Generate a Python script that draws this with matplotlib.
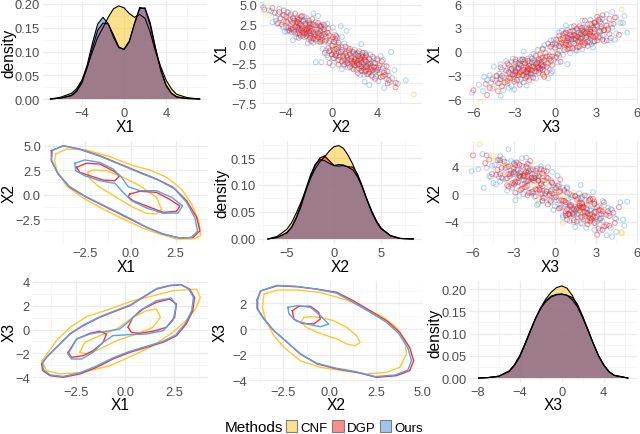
import matplotlib
matplotlib.use("Agg")
import matplotlib.pyplot as plt
from matplotlib.patches import Patch

plt.rcParams['font.family'] = ['Liberation Sans', 'DejaVu Sans']

methods = ['CNF', 'DGP', 'Ours']
base_colors = {'CNF': '#F9C51A', 'DGP': '#FF0000', 'Ours': '#3E87D2'}
point_colors = {'CNF': '#F9C51A', 'DGP': '#FF0D0D', 'Ours': '#4A9BE6'}
line_colors = {'CNF': '#FFC72C', 'DGP': '#FF3030', 'Ours': '#4EA3F5'}
key_colors = {'CNF': '#FCE28C', 'DGP': '#FA8C8C', 'Ours': '#9EC6EC'}

# ---------------- sample points (X1, X2, X3) ----------------
cnf_samples = [(-2.6, 2.8, -2.0), (1.9, -2.3, 1.8), (-1.0, 1.5, -0.6), (0.8, -0.4, 0.9),
               (-3.5, 3.9, -3.1), (2.8, -3.1, 2.5), (-0.2, 0.5, 0.2), (3.7, -5.5, 4.9),
               (-4.5, 5.5, -4.5), (1.2, -1.5, 2.9), (-2.0, 1.2, -1.5), (2.2, -4.2, 0.6),
               (-6.4, 7.2, -5.5), (5.3, -5.7, 4.9), (0.3, -1.1, -1.2), (-1.5, 3.0, -2.7),
               (1.6, 0.2, 1.4), (-3.0, 2.0, -0.8), (2.6, -2.0, 3.4),
               (-1.8, 2.1, -1.9), (2.4, -2.6, 2.0), (-2.9, 2.6, -2.5), (1.4, -0.8, 0.5),
               (-0.6, 0.1, -0.4), (3.1, -3.8, 2.7), (-3.9, 4.2, -3.6), (0.9, -1.9, 1.7),
               (-1.2, 2.4, -1.2), (2.0, -1.2, 2.3)]
dgp_samples = [(-2.1, 2.3, -1.5), (-1.5, 1.0, -2.2), (-2.8, 3.1, -2.0), (-3.4, 2.6, -3.3),
               (-1.2, 0.4, -0.3), (-2.5, 1.8, -2.9), (-0.8, 1.5, -1.0), (-1.9, 3.3, -0.6),
               (-3.0, 4.1, -2.4), (-2.2, 0.9, -1.1), (-4.0, 3.5, -4.2), (-1.6, 2.7, -2.6),
               (-2.7, 2.0, -1.2), (-0.5, -0.3, -1.4), (-3.6, 4.6, -2.8), (-1.3, 2.1, 0.4),
               (-2.4, 3.8, -3.6), (-1.8, 0.2, -1.9), (-3.2, 1.9, -2.1), (-2.0, 1.4, -3.0),
               (-4.6, 5.0, -4.8), (-1.0, 0.8, -2.4), (-2.9, 3.0, -0.9), (-2.3, 2.6, -2.3),
               (-1.7, 1.7, -0.2), (-3.8, 3.2, -3.0), (-0.9, 2.4, -1.7), (-2.6, 0.6, -2.5),
               (-1.4, 3.0, -1.3), (-3.3, 3.6, -1.6), (-2.2, 4.4, -2.0), (-1.1, -0.6, -0.8),
               (-5.5, 5.6, -5.0), (-2.0, 2.9, -4.0), (-0.3, 1.2, 0.2), (-2.6, 1.1, -3.4),
               (-1.6, 3.6, -1.0), (-3.1, 2.4, -3.9), (-4.2, 4.3, -2.6), (-1.9, 2.0, -1.6),
               (-2.4, -0.2, -2.0), (-0.6, 0.4, -0.6), (-3.5, 2.9, -4.6), (-1.3, 1.6, -2.9),
               (-2.8, 4.8, -1.8), (1.7, -1.8, 1.5), (2.3, -2.6, 2.2), (1.1, -0.9, 0.5),
               (0.6, -1.4, 1.8), (2.8, -3.0, 2.6), (1.4, -2.2, 0.9), (3.3, -3.4, 3.0),
               (1.9, -0.7, 2.8), (0.9, 0.1, -0.2), (2.5, -1.6, 1.1), (1.2, -2.8, 2.4),
               (3.7, -4.2, 2.9), (2.0, -2.1, 0.3), (0.4, -0.2, 1.3), (1.6, -3.3, 1.9),
               (2.7, -1.2, 3.6), (1.8, -2.4, 3.2), (0.2, 0.6, 0.7), (2.1, -3.8, 1.4),
               (3.0, -2.0, 2.0), (1.3, -1.1, 2.9), (4.1, -4.6, 4.0), (1.5, -0.4, 0.1),
               (2.4, -3.1, 0.8), (0.8, -1.9, 2.1), (2.9, -4.0, 1.6), (1.0, -1.5, -0.5),
               (2.2, -0.9, 2.5), (3.5, -2.7, 4.3), (1.7, -2.9, 1.0), (0.5, -0.8, 1.6),
               (2.6, -2.3, 3.3), (1.9, -1.3, 2.0), (4.6, -5.2, 3.5), (1.1, -2.5, 0.8),
               (2.0, -3.6, 2.7), (3.2, -1.7, 1.8), (0.7, 0.3, 0.3), (2.5, -4.4, 2.4),
               (1.4, -3.0, 3.8), (3.9, -3.2, 2.2), (0.3, -1.0, -0.9), (2.1, -1.9, 4.7),
               (-4.9, 5.6, -6.0), (4.4, -5.9, 3.1),
               (-1.9, 1.1, -0.9), (-2.4, 2.2, -1.7), (-3.0, 3.5, -2.7), (-1.4, 0.3, -1.7),
               (-2.2, 3.0, -3.2), (-0.7, 0.9, 0.1), (-3.3, 4.0, -3.4), (-2.6, 2.4, -0.6),
               (-1.0, 1.9, -1.2), (-1.8, 2.5, -2.5), (-3.9, 4.7, -3.7), (-2.1, 1.7, -2.7),
               (-1.5, 2.3, -0.5), (-2.9, 1.6, -3.1), (-0.4, 0.6, -1.1), (-2.5, 3.4, -1.4),
               (-1.2, 1.2, -2.0), (-3.4, 3.0, -2.2), (-2.0, 0.6, -1.3), (-4.4, 3.8, -3.9),
               (-1.7, 2.9, -3.4), (-2.8, 2.6, -2.6), (-0.9, -0.2, -0.4), (-3.6, 3.3, -1.9),
               (-2.3, 1.9, -0.9), (-1.1, 2.7, -2.2), (-2.7, 4.2, -2.9), (-3.1, 2.8, -4.3),
               (-1.6, 0.7, -1.4), (-2.4, 1.4, -2.4), (-5.0, 4.9, -4.2), (-0.6, 1.6, -0.2),
               (-1.9, 4.0, -2.1), (-3.7, 2.3, -3.5), (-2.2, 2.0, -1.9), (-1.3, 0.0, -1.0),
               (-2.9, 3.7, -3.0), (-4.1, 4.5, -5.1), (-0.2, 0.1, -0.7), (-2.6, 3.2, -2.1),
               (-1.5, 1.3, -3.5), (-3.2, 3.4, -0.8), (-2.0, 2.6, -1.2), (-1.0, 0.2, -2.9),
               (-3.5, 4.9, -4.0),
               (1.5, -1.6, 1.2), (2.2, -2.0, 1.9), (0.9, -1.2, 0.8), (2.7, -3.4, 2.0),
               (1.3, -0.6, 1.7), (3.1, -2.9, 3.4), (1.8, -2.7, 2.3), (0.5, -0.5, 0.0),
               (2.4, -1.4, 2.9), (1.0, -2.2, 1.4), (3.5, -4.0, 2.6), (1.7, -1.0, 0.6),
               (2.9, -2.5, 3.9), (0.7, -1.6, 2.4), (2.1, -3.0, 1.1), (1.4, -1.9, 3.1),
               (3.8, -3.6, 3.3), (2.5, -1.9, 2.1), (0.3, 0.2, 0.9), (1.9, -3.5, 2.6),
               (2.6, -2.8, 1.3), (1.2, -1.4, 2.0), (3.3, -4.5, 3.8), (1.6, -2.0, 0.4),
               (2.0, -0.3, 1.5), (0.8, -2.9, 1.0), (3.0, -3.3, 2.8), (1.5, -2.5, 3.5),
               (2.3, -1.0, 0.7), (4.0, -5.0, 3.2), (1.1, -0.2, 2.2), (2.8, -3.9, 2.4),
               (1.9, -2.2, 1.6), (0.6, -1.0, -0.3), (3.6, -2.6, 2.9), (2.2, -3.2, 4.0),
               (1.3, -2.4, 1.8), (2.5, -0.7, 2.6), (4.3, -4.2, 4.4), (1.7, -3.7, 0.9),
               (0.4, -1.8, 1.1), (3.2, -3.0, 1.4), (2.0, -2.6, 3.0), (1.0, 0.4, 0.4),
               (2.7, -4.7, 3.6)]
ours_samples = [(-2.0, 2.1, -2.3), (-1.4, 0.7, -1.2), (-2.9, 3.4, -1.7), (-3.3, 2.2, -3.8),
                (-1.0, 1.3, -0.1), (-2.4, 2.8, -3.1), (-0.7, 0.2, -1.8), (-1.8, 3.7, -1.3),
                (-3.1, 4.5, -3.0), (-2.3, 1.2, -0.4), (-4.1, 3.9, -3.5), (-1.5, 2.4, -2.7),
                (-2.6, 1.5, -2.2), (-0.4, 0.9, 0.6), (-3.7, 4.2, -4.4), (-1.2, 1.9, -1.5),
                (-2.5, 3.2, -0.2), (-1.7, -0.3, -2.6), (-3.4, 2.7, -1.4), (-2.1, 0.5, -3.5),
                (-4.4, 4.8, -3.2), (-0.9, 1.8, -2.0), (-2.8, 2.5, -4.1), (-2.2, 3.5, -2.8),
                (-1.6, 1.0, 0.9), (-3.9, 2.8, -2.3), (-1.1, 2.9, -1.1), (-2.7, 0.1, -1.6),
                (-1.3, 3.4, -3.2), (-3.5, 3.3, -2.5), (-2.1, 4.0, -1.0), (-0.6, -0.8, -0.4),
                (-5.0, 5.8, -5.3), (-1.9, 1.6, -4.5), (-0.2, 0.0, 1.1), (-2.5, 1.9, -2.0),
                (-1.5, 4.3, -1.9), (-3.0, 1.4, -4.3), (-4.3, 5.3, -2.1), (-1.8, 2.6, -0.8),
                (-2.3, -0.9, -2.9), (-0.8, -0.1, 0.0), (-3.6, 3.8, -5.0), (-1.2, 2.2, -3.6),
                (-5.6, 4.6, -4.0), (1.8, -2.0, 2.3), (2.4, -2.9, 1.7), (1.0, -0.5, 1.2),
                (0.7, -1.7, 0.4), (2.9, -3.5, 3.4), (1.5, -2.6, 1.5), (3.4, -3.0, 2.4),
                (2.0, -1.0, 3.5), (0.8, 0.5, -0.8), (2.6, -1.9, 0.5), (1.3, -3.2, 2.9),
                (3.8, -4.7, 3.7), (1.9, -1.5, 0.8), (0.3, -0.6, 2.0), (1.6, -3.9, 1.1),
                (2.8, -1.4, 2.9), (1.7, -2.2, 4.1), (0.1, 1.1, 0.3), (2.2, -4.3, 2.0),
                (3.1, -2.5, 1.2), (1.2, -0.8, 2.6), (4.3, -5.5, 4.5), (1.4, -1.2, -0.3),
                (2.5, -2.7, 1.4), (0.9, -2.4, 2.7), (3.0, -4.9, 2.3), (1.1, -1.8, 0.0),
                (2.3, -0.6, 1.9), (3.6, -3.7, 5.0), (1.8, -3.4, 1.7), (0.4, -1.3, 1.0),
                (2.7, -2.0, 3.9), (2.0, -2.8, 2.4), (5.0, -6.2, 4.2), (1.2, -2.0, 1.3),
                (2.1, -4.0, 3.1), (3.3, -2.2, 2.7), (0.6, 0.0, -0.4), (2.6, -4.8, 1.5),
                (1.5, -3.5, 4.4), (4.0, -3.8, 2.6), (0.2, -1.6, -1.3), (2.4, -1.1, 5.3),
                (-5.2, 3.3, -6.1), (4.7, -6.0, 3.8), (-1.0, 5.2, -2.4), (2.3, 0.8, 0.9),
                (-3.2, 0.9, -5.2), (3.6, -1.2, 4.8), (-4.6, 6.5, -3.4),
                (-1.7, 1.4, -1.0), (-2.6, 2.3, -2.6), (-3.2, 3.8, -2.0), (-1.3, 0.0, -2.3),
                (-2.3, 3.3, -3.9), (-0.5, 1.4, 0.3), (-3.5, 4.4, -3.0), (-2.7, 2.0, -0.3),
                (-1.1, 2.3, -1.6), (-2.0, 2.8, -2.0), (-4.0, 5.0, -4.1), (-2.2, 1.3, -3.2),
                (-1.4, 2.7, 0.2), (-3.0, 1.8, -2.8), (-0.3, 0.4, -1.6), (-2.4, 3.7, -1.1),
                (-1.0, 0.6, -2.6), (-3.3, 3.5, -1.8), (-1.8, 0.1, -0.9), (-4.7, 4.1, -4.6),
                (-1.6, 3.1, -3.0), (-2.9, 2.9, -3.3), (-0.8, -0.5, -0.9), (-3.8, 3.1, -2.6),
                (-2.5, 2.4, -1.5), (-1.2, 3.0, -2.5), (-2.8, 4.6, -3.5), (-3.0, 2.6, -4.8),
                (-1.5, 0.4, -0.6), (-2.6, 1.0, -2.1), (-4.9, 5.1, -3.8), (-0.7, 2.0, -0.7),
                (-2.0, 4.5, -2.7), (-3.9, 2.5, -4.7), (-2.1, 2.2, -1.3), (-1.4, -0.4, -1.5),
                (-3.0, 3.9, -2.3), (-4.2, 3.6, -5.6), (-0.1, 0.6, -0.2), (-2.7, 3.0, -1.8),
                (-1.6, 1.8, -4.0), (-3.4, 3.9, -0.5), (-1.9, 2.4, -1.7), (-0.9, 0.9, -3.1),
                (-3.3, 5.5, -4.0), (-2.3, -1.4, -1.2), (-4.8, 2.9, -3.0), (0.0, 2.6, -2.3),
                (1.6, -1.3, 1.9), (2.1, -2.4, 2.6), (0.8, -0.9, 0.1), (2.8, -3.0, 1.6),
                (1.4, -0.3, 2.4), (3.2, -3.3, 3.1), (1.9, -2.9, 1.3), (0.5, 0.4, 0.7),
                (2.5, -1.7, 3.2), (1.0, -2.7, 2.2), (3.7, -4.3, 3.0), (1.6, -0.7, 1.0),
                (3.0, -2.3, 4.2), (0.6, -2.0, 1.7), (2.0, -3.4, 0.6), (1.3, -1.6, 3.6),
                (4.1, -3.9, 3.5), (2.4, -2.1, 2.3), (0.2, -0.3, 1.5), (1.8, -3.8, 3.3),
                (2.7, -3.1, 0.9), (1.1, -1.1, 2.5), (3.4, -4.9, 4.1), (1.5, -2.3, -0.1),
                (2.1, 0.1, 1.8), (0.9, -3.1, 0.6), (3.1, -3.6, 2.2), (1.4, -2.8, 4.0),
                (2.4, -0.9, 0.3), (4.2, -5.3, 3.3), (1.2, 0.3, 2.8), (2.9, -4.2, 1.9),
                (1.9, -1.8, 1.2), (0.4, -0.9, -0.9), (3.5, -2.4, 3.4), (2.3, -3.6, 4.5),
                (1.2, -2.2, 1.0), (2.6, -0.4, 2.0), (4.5, -4.6, 5.1), (1.6, -4.1, 1.4),
                (0.1, -2.1, 1.6), (3.3, -2.8, 0.8), (2.1, -2.9, 3.6), (0.9, 0.9, 0.0),
                (2.8, -5.2, 2.9), (3.9, -1.6, 2.0), (0.5, -3.4, 2.8), (1.7, 1.3, 1.9)]
samples = {'CNF': cnf_samples, 'DGP': dgp_samples, 'Ours': ours_samples}

# ---------------- density curves ----------------
x1_grid = [-7, -6, -5, -4.5, -4, -3.5, -3, -2.5, -2, -1.5, -1, -0.5, 0, 0.5, 1, 1.5, 2, 2.5, 3, 3.5, 4, 4.5, 5, 6, 7.2]
x1_dens_cnf = [0, 0.004, 0.012, 0.022, 0.040, 0.068, 0.100, 0.130, 0.150, 0.172, 0.190, 0.196, 0.192, 0.180, 0.172, 0.178, 0.170, 0.140, 0.100, 0.068, 0.040, 0.022, 0.010, 0.003, 0]
x1_dens_dgp = [0, 0.002, 0.007, 0.016, 0.034, 0.066, 0.108, 0.145, 0.160, 0.158, 0.135, 0.110, 0.104, 0.120, 0.160, 0.193, 0.190, 0.155, 0.105, 0.060, 0.028, 0.012, 0.004, 0.001, 0]
x1_dens_ours = [0, 0.002, 0.008, 0.018, 0.038, 0.072, 0.118, 0.158, 0.172, 0.158, 0.130, 0.108, 0.105, 0.122, 0.158, 0.190, 0.192, 0.160, 0.108, 0.062, 0.030, 0.013, 0.005, 0.001, 0]

x2_grid = [-7, -6, -5, -4.5, -4, -3.5, -3, -2.5, -2, -1.5, -1, -0.5, 0, 0.5, 1, 1.5, 2, 2.5, 3, 3.5, 4, 4.5, 5, 6, 7, 8.4]
x2_dens_cnf = [0, 0.005, 0.018, 0.030, 0.048, 0.068, 0.090, 0.112, 0.130, 0.143, 0.152, 0.163, 0.171, 0.173, 0.168, 0.155, 0.138, 0.118, 0.096, 0.073, 0.052, 0.034, 0.020, 0.006, 0.001, 0]
x2_dens_dgp = [0, 0.003, 0.011, 0.021, 0.038, 0.060, 0.088, 0.114, 0.136, 0.150, 0.154, 0.145, 0.136, 0.135, 0.136, 0.134, 0.133, 0.120, 0.098, 0.073, 0.050, 0.032, 0.019, 0.006, 0.001, 0]
x2_dens_ours = [0, 0.003, 0.012, 0.022, 0.040, 0.064, 0.092, 0.118, 0.138, 0.147, 0.145, 0.140, 0.136, 0.138, 0.137, 0.133, 0.128, 0.115, 0.096, 0.072, 0.050, 0.032, 0.019, 0.006, 0.001, 0]

x3_grid = [-7.9, -7, -6, -5, -4.5, -4, -3.5, -3, -2.5, -2, -1.5, -1, -0.5, 0, 0.5, 1, 1.5, 2, 2.5, 3, 3.5, 4, 4.5, 5, 6.3]
x3_dens_cnf = [0, 0.001, 0.004, 0.015, 0.028, 0.047, 0.074, 0.104, 0.133, 0.158, 0.178, 0.193, 0.203, 0.207, 0.202, 0.186, 0.162, 0.136, 0.107, 0.078, 0.051, 0.030, 0.015, 0.006, 0]
x3_dens_dgp = [0, 0.001, 0.004, 0.015, 0.029, 0.049, 0.076, 0.105, 0.133, 0.156, 0.172, 0.182, 0.187, 0.188, 0.186, 0.181, 0.166, 0.139, 0.109, 0.078, 0.050, 0.029, 0.014, 0.006, 0]
x3_dens_ours = [0, 0.001, 0.004, 0.016, 0.030, 0.050, 0.077, 0.106, 0.134, 0.157, 0.174, 0.184, 0.188, 0.189, 0.186, 0.176, 0.160, 0.136, 0.108, 0.078, 0.050, 0.029, 0.014, 0.006, 0]

# ---------------- density contours (x, y) ----------------
# X1 (x) vs X2 (y)
c12_cnf_outer = [(-4.15, 4.15), (-3.56, 4.66), (-2.44, 4.56), (-1.15, 3.88), (0.14, 2.96), (1.07, 2.52), (2.0, 1.77), (2.83, 0.57), (3.39, -0.96), (3.81, -2.83), (3.89, -4.20), (3.48, -4.54), (2.56, -4.54), (1.63, -4.03), (0.70, -3.45), (-0.41, -2.49), (-1.52, -1.47), (-2.63, -0.35), (-3.56, 0.91), (-4.08, 2.44), (-4.21, 3.47)]
c12_cnf_inner = [(-2.36, 2.28), (-2.08, 2.52), (-1.33, 2.44), (-0.41, 1.77), (0.52, 0.91), (1.44, -0.28), (1.72, -1.47), (1.44, -1.98), (0.89, -1.91), (0.14, -1.30), (-0.78, -0.28), (-1.71, 0.75), (-2.26, 1.60)]
c12_dgp_outer = [(-4.39, 4.49), (-3.74, 5.0), (-2.82, 4.66), (-1.71, 3.98), (-0.59, 3.13), (0.52, 2.28), (1.44, 1.6), (2.37, 0.75), (3.11, -0.62), (3.67, -2.32), (3.85, -3.69), (3.48, -4.37), (2.74, -4.44), (1.81, -4.03), (0.89, -3.35), (-0.22, -2.32), (-1.33, -1.30), (-2.44, -0.28), (-3.37, 0.75), (-4.02, 2.11), (-4.39, 3.47)]
c12_dgp_inner_a = [(-3.0, 2.79), (-2.44, 3.20), (-1.71, 3.13), (-0.97, 2.44), (-0.59, 1.93), (-0.87, 1.42), (-1.52, 1.49), (-2.26, 1.93), (-2.82, 2.28)]
c12_dgp_inner_b = [(-0.04, 0.06), (0.52, 0.34), (1.44, 0.23), (2.18, -0.49), (2.74, -1.17), (2.56, -1.71), (1.81, -1.81), (0.89, -1.17), (0.14, -0.62), (-0.13, -0.21)]
c12_ours_outer = [(-4.33, 4.55), (-3.70, 4.98), (-2.78, 4.60), (-1.66, 3.90), (-0.55, 3.05), (0.55, 2.20), (1.50, 1.52), (2.42, 0.62), (3.10, -0.75), (3.58, -2.40), (3.72, -3.75), (3.36, -4.40), (2.66, -4.42), (1.76, -4.00), (0.84, -3.28), (-0.25, -2.22), (-1.36, -1.22), (-2.48, -0.20), (-3.40, 0.85), (-4.05, 2.20), (-4.38, 3.55)]
c12_ours_inner = [(-3.09, 3.20), (-2.54, 3.54), (-1.71, 3.30), (-0.97, 2.62), (-0.50, 1.77), (-0.13, 0.81), (0.52, 0.40), (1.44, 0.40), (2.28, -0.28), (2.89, -1.14), (2.64, -1.88), (1.81, -1.91), (0.89, -1.37), (0.06, -0.62), (-0.41, 0.23), (-0.87, 1.16), (-1.71, 1.42), (-2.54, 1.93), (-3.04, 2.44)]

# X1 (x) vs X3 (y)
c13_cnf_outer = [(-4.22, -2.67), (-3.47, -0.94), (-2.79, 0.18), (-1.95, 1.08), (-0.77, 1.72), (0.40, 2.42), (1.25, 2.76), (2.42, 3.26), (3.61, 3.40), (3.81, 2.70), (3.61, 1.86), (3.18, 0.88), (2.42, -0.24), (1.41, -1.36), (0.40, -2.20), (-0.77, -3.04), (-2.12, -3.60), (-3.30, -3.74), (-3.97, -3.46)]
c13_cnf_inner = [(-2.29, -1.92), (-2.04, -1.08), (-1.28, -0.52), (-0.43, 0.04), (0.40, 1.03), (1.08, 1.58), (1.59, 1.72), (1.79, 1.03), (1.41, 0.18), (0.58, -0.38), (-0.43, -0.94), (-1.28, -1.64), (-1.95, -2.06)]
c13_dgp_outer = [(-4.22, -2.90), (-3.97, -2.34), (-3.38, -1.36), (-2.79, -0.38), (-2.12, 0.32), (-1.28, 1.03), (-0.43, 1.58), (0.24, 2.0), (0.91, 2.7), (1.59, 3.40), (2.26, 3.68), (2.85, 3.77), (3.27, 3.40), (3.52, 2.70), (3.43, 1.58), (3.10, 0.46), (2.60, -0.52), (1.92, -1.08), (1.08, -1.50), (0.24, -1.92), (-0.61, -2.48), (-1.44, -3.18), (-2.29, -3.74), (-3.13, -4.02), (-3.80, -3.88), (-4.17, -3.46)]
c13_dgp_inner_a = [(-2.88, -1.92), (-2.45, -0.80), (-1.78, -0.32), (-1.28, -0.15), (-0.94, -0.38), (-1.11, -1.08), (-1.62, -1.78), (-2.12, -2.20), (-2.71, -2.34)]
c13_dgp_inner_b = [(0.15, 0.18), (0.40, 1.03), (0.91, 1.72), (1.59, 2.29), (2.26, 2.56), (2.60, 2.14), (2.51, 1.03), (2.09, 0.18), (1.41, -0.15), (0.74, -0.32), (0.32, -0.24)]
c13_ours_outer = [(-4.18, -2.80), (-3.93, -2.24), (-3.34, -1.28), (-2.75, -0.30), (-2.08, 0.40), (-1.24, 1.10), (-0.40, 1.65), (0.28, 2.08), (0.95, 2.78), (1.62, 3.46), (2.28, 3.72), (2.80, 3.78), (3.22, 3.42), (3.46, 2.72), (3.38, 1.60), (3.04, 0.48), (2.55, -0.48), (1.88, -1.02), (1.04, -1.44), (0.20, -1.86), (-0.66, -2.42), (-1.48, -3.10), (-2.32, -3.66), (-3.15, -3.95), (-3.78, -3.82), (-4.13, -3.38)]
c13_ours_inner = [(-2.88, -2.06), (-2.45, -0.80), (-1.78, -0.38), (-0.94, -0.15), (-0.27, 0.04), (0.24, 0.74), (0.74, 1.58), (1.59, 2.42), (2.34, 2.65), (2.60, 2.00), (2.42, 0.74), (1.92, -0.10), (1.08, -0.38), (0.07, -0.44), (-0.61, -0.52), (-1.11, -1.08), (-1.62, -1.92), (-2.20, -2.48), (-2.71, -2.48)]

# X2 (x) vs X3 (y)
c23_cnf_outer = [(-3.54, 2.72), (-2.82, 3.04), (-1.75, 3.04), (-0.51, 2.85), (0.74, 2.33), (1.81, 1.69), (2.88, 0.91), (3.59, 0.13), (4.04, -0.91), (4.13, -1.95), (3.77, -2.98), (3.06, -3.37), (1.99, -3.50), (0.74, -3.24), (-0.51, -2.98), (-1.58, -2.47), (-2.47, -1.43), (-3.01, -0.52), (-3.45, 0.65), (-3.63, 1.69)]
c23_cnf_inner = [(-1.40, 0.91), (-1.04, 0.96), (-0.51, 0.91), (0.20, 0.65), (0.92, 0.13), (1.45, -0.52), (1.63, -1.04), (1.36, -1.30), (0.92, -1.17), (0.39, -0.78), (-0.15, -0.52), (-0.68, -0.26), (-1.31, 0.18), (-1.54, 0.57)]
c23_dgp_outer = [(-3.89, 2.33), (-3.72, 2.98), (-2.82, 3.37), (-1.75, 3.29), (-0.68, 3.11), (0.39, 2.85), (1.27, 2.20), (2.17, 1.42), (3.06, 0.65), (3.77, -0.26), (4.30, -1.43), (4.52, -2.47), (4.30, -3.24), (3.59, -3.63), (2.52, -3.76), (1.45, -3.37), (0.39, -3.11), (-0.68, -2.72), (-1.58, -1.95), (-2.29, -1.04), (-3.01, -0.13), (-3.54, 0.78), (-3.89, 1.56)]
c23_dgp_inner = [(-2.02, 1.43), (-1.67, 1.77), (-1.04, 1.77), (-0.60, 1.30), (-0.51, 0.78), (-0.87, 0.39), (-1.49, 0.44), (-1.94, 0.78)]
c23_ours_outer = [(-3.93, 2.25), (-3.75, 2.95), (-2.86, 3.40), (-1.80, 3.33), (-0.72, 3.10), (0.35, 2.80), (1.22, 2.12), (2.12, 1.35), (3.00, 0.58), (3.70, -0.32), (4.20, -1.45), (4.40, -2.45), (4.20, -3.20), (3.50, -3.58), (2.45, -3.70), (1.40, -3.32), (0.35, -3.05), (-0.72, -2.66), (-1.62, -1.90), (-2.33, -0.98), (-3.05, -0.08), (-3.58, 0.82), (-3.93, 1.60)]
c23_ours_inner = [(-2.26, 1.69), (-1.75, 1.82), (-1.04, 1.69), (-0.51, 1.04), (-0.06, 0.39), (-0.51, 0.18), (-1.22, 0.39), (-1.84, 0.65), (-2.20, 1.17)]

contours_12 = {'CNF': [c12_cnf_outer, c12_cnf_inner], 'DGP': [c12_dgp_outer, c12_dgp_inner_a, c12_dgp_inner_b], 'Ours': [c12_ours_outer, c12_ours_inner]}
contours_13 = {'CNF': [c13_cnf_outer, c13_cnf_inner], 'DGP': [c13_dgp_outer, c13_dgp_inner_a, c13_dgp_inner_b], 'Ours': [c13_ours_outer, c13_ours_inner]}
contours_23 = {'CNF': [c23_cnf_outer, c23_cnf_inner], 'DGP': [c23_dgp_outer, c23_dgp_inner], 'Ours': [c23_ours_outer, c23_ours_inner]}

# ---------------- tick labels ----------------
ticks_dens_big = [0, 0.05, 0.10, 0.15, 0.20]
labels_dens_big = ['0.00', '0.05', '0.10', '0.15', '0.20']
ticks_dens_x2 = [0, 0.05, 0.10, 0.15]
labels_dens_x2 = ['0.00', '0.05', '0.10', '0.15']
ticks_m4_4 = [-4, 0, 4]
labels_m4_4 = ['\u22124', '0', '4']
ticks_x1_sc = [-7.5, -5, -2.5, 0, 2.5, 5]
labels_x1_sc = ['\u22127.5', '\u22125.0', '\u22122.5', '0.0', '2.5', '5.0']
ticks_m6_6 = [-6, -3, 0, 3, 6]
labels_m6_6 = ['\u22126', '\u22123', '0', '3', '6']
ticks_25 = [-2.5, 0, 2.5]
labels_25 = ['\u22122.5', '0.0', '2.5']
ticks_x2_c = [-2.5, 0, 2.5, 5]
labels_x2_c = ['\u22122.5', '0.0', '2.5', '5.0']
ticks_m5_5 = [-5, 0, 5]
labels_m5_5 = ['\u22125', '0', '5']
ticks_x3_c = [-4, -2, 0, 2, 4]
labels_x3_c = ['\u22124', '\u22122', '0', '2', '4']
ticks_x3_c2 = [-4, -2, 0, 2]
labels_x3_c2 = ['\u22124', '\u22122', '0', '2']
ticks_m8 = [-8, -4, 0, 4]
labels_m8 = ['\u22128', '\u22124', '0', '4']

W, H = 640, 435
fig = plt.figure(figsize=(W / 100, H / 100), dpi=100)


def make_ax(l, t, r, b, xlim, ylim, xt, xl, yt, yl, xlabel, ylabel, ylab_x):
    ax = fig.add_axes([l / W, 1 - b / H, (r - l) / W, (b - t) / H])
    ax.set_xlim(*xlim)
    ax.set_ylim(*ylim)
    for s in ax.spines.values():
        s.set_visible(False)
    ax.set_xticks(xt, xl)
    ax.set_yticks(yt, yl)

    def minors(tk, lim):
        step = tk[1] - tk[0]
        cand = [tk[0] - step / 2] + [a + step / 2 for a in tk]
        return [c for c in cand if lim[0] <= c <= lim[1]]
    ax.set_xticks(minors(xt, xlim), minor=True)
    ax.set_yticks(minors(yt, ylim), minor=True)
    ax.tick_params(which='both', length=0)
    ax.tick_params(axis='both', labelsize=9.3, labelcolor='#4D4D4D')
    ax.tick_params(axis='x', pad=2.4)
    ax.tick_params(axis='y', pad=2.2)
    ax.grid(which='major', color='#EBEBEB', linewidth=0.9)
    ax.grid(which='minor', color='#F3F3F3', linewidth=0.5)
    ax.set_axisbelow(True)
    fig.text((l + r) / 2 / W, 1 - (b + 22) / H, xlabel, ha='center', va='center', fontsize=11.2)
    fig.text(ylab_x / W, 1 - (t + b) / 2 / H, ylabel, ha='center', va='center', rotation=90, fontsize=11.2)
    return ax


def draw_density(ax, grid, dens):
    for m in methods:
        ax.fill_between(grid, 0, dens[m], facecolor=base_colors[m], alpha=0.5, linewidth=0, zorder=2)
    for m in methods:
        ax.plot(grid, dens[m], color='black', linewidth=0.8, zorder=3)


def draw_scatter(ax, ix, iy):
    for m in ['CNF', 'Ours', 'DGP']:
        pts = samples[m]
        ax.scatter([p[ix] for p in pts], [p[iy] for p in pts], s=12, facecolors='none',
                   edgecolors=point_colors[m], alpha=0.42, linewidths=0.75, zorder=2)


def draw_contours(ax, cdict):
    for m in methods:
        for poly in cdict[m]:
            xs = [p[0] for p in poly] + [poly[0][0]]
            ys = [p[1] for p in poly] + [poly[0][1]]
            ax.plot(xs, ys, color=line_colors[m], linewidth=1.0, zorder=3, solid_joinstyle='round')


# Row 1
ax = make_ax(43, 2, 207, 105, (-7.71, 7.9), (-0.0105, 0.2063), ticks_m4_4, labels_m4_4,
             ticks_dens_big, labels_dens_big, 'X1', 'density', 9)
draw_density(ax, x1_grid, {'CNF': x1_dens_cnf, 'DGP': x1_dens_dgp, 'Ours': x1_dens_ours})

ax = make_ax(260, 2, 422, 105, (-6.29, 7.92), (-7.62, 5.5), ticks_m4_4, labels_m4_4,
             ticks_x1_sc, labels_x1_sc, 'X2', 'X1', 222)
draw_scatter(ax, 1, 0)

ax = make_ax(465, 2, 638, 105, (-6.62, 6.1), (-6.63, 6.38), ticks_m6_6, labels_m6_6,
             ticks_m6_6, labels_m6_6, 'X3', 'X1', 435)
draw_scatter(ax, 2, 0)

# Row 2
ax = make_ax(44, 142, 208, 245, (-4.8, 4.3), (-5.05, 5.48), ticks_25, labels_25,
             ticks_25 + [5.0], labels_25 + ['5.0'], 'X1', 'X2', 9)
draw_contours(ax, contours_12)

ax = make_ax(259, 142, 422, 245, (-7.95, 9.33), (-0.0093, 0.1815), ticks_m5_5, labels_m5_5,
             ticks_dens_x2, labels_dens_x2, 'X2', 'density', 222)
draw_density(ax, x2_grid, {'CNF': x2_dens_cnf, 'DGP': x2_dens_dgp, 'Ours': x2_dens_ours})

ax = make_ax(462, 142, 638, 245, (-6.8, 6.1), (-7.25, 7.7), ticks_m6_6, labels_m6_6,
             ticks_m4_4, labels_m4_4, 'X3', 'X2', 435)
draw_scatter(ax, 2, 1)

# Row 3
ax = make_ax(33, 282, 208, 384, (-4.66, 4.2), (-4.5, 4.08), ticks_25, labels_25,
             ticks_x3_c, labels_x3_c, 'X1', 'X3', 9)
draw_contours(ax, contours_13)

ax = make_ax(250, 282, 423, 384, (-4.3, 5.02), (-4.2, 3.74), ticks_x2_c, labels_x2_c,
             ticks_x3_c2, labels_x3_c2, 'X2', 'X3', 220)
draw_contours(ax, contours_23)

ax = make_ax(470, 282, 637, 384, (-8.73, 7.17), (-0.0112, 0.218), ticks_m8, labels_m8,
             ticks_dens_big, labels_dens_big, 'X3', 'density', 435)
draw_density(ax, x3_grid, {'CNF': x3_dens_cnf, 'DGP': x3_dens_dgp, 'Ours': x3_dens_ours})

# Legend
fig.text(225 / W, 1 - 428 / H, 'Methods', ha='left', va='center', fontsize=11)
handles = [Patch(facecolor=key_colors[m], edgecolor='#7F7F7F', linewidth=0.8) for m in methods]
fig.legend(handles, methods, loc='center left', bbox_to_anchor=(286 / W, 1 - 428 / H), ncol=3,
           frameon=False, fontsize=9.5, handlelength=0.85, handleheight=1.05, handletextpad=0.25,
           columnspacing=0.35, borderpad=0, borderaxespad=0)

fig.savefig('out.png', dpi=100)
